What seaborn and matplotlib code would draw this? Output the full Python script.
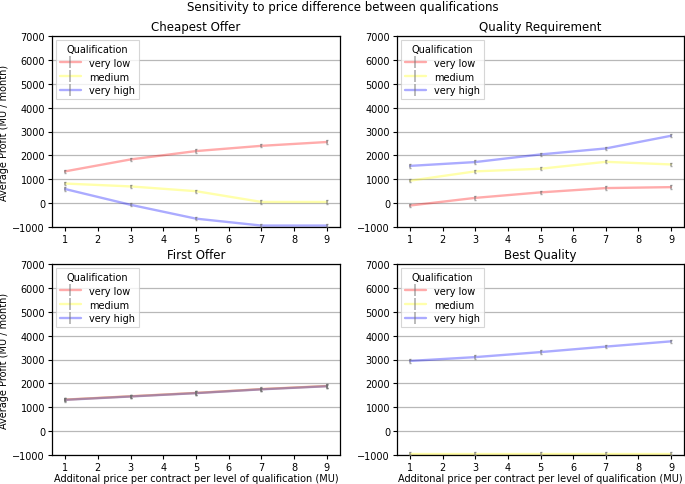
import numpy as np
import pandas as pd
import seaborn as sns
import matplotlib
matplotlib.use("Agg")
import matplotlib.pyplot as plt
from matplotlib.lines import Line2D
from matplotlib.legend_handler import HandlerTuple

# ---------------- data ----------------
price_steps = [1, 3, 5, 7, 9]
qualifications = ["very low", "medium", "very high"]
panel_titles = ["Cheapest Offer", "Quality Requirement", "First Offer", "Best Quality"]

cheapest_very_low = [1330, 1830, 2180, 2400, 2560]
cheapest_medium = [820, 700, 500, 50, 50]
cheapest_very_high = [590, -70, -650, -940, -940]

quality_very_low = [-100, 220, 450, 630, 670]
quality_medium = [940, 1330, 1440, 1730, 1620]
quality_very_high = [1560, 1720, 2040, 2290, 2820]

first_very_low = [1320, 1460, 1600, 1760, 1890]
first_medium = [1315, 1455, 1595, 1755, 1885]
first_very_high = [1310, 1450, 1590, 1750, 1880]

best_very_low = [-1050, -1050, -1050, -1050, -1050]
best_medium = [-940, -940, -940, -940, -940]
best_very_high = [2940, 3100, 3310, 3540, 3760]

error_size = [70, 70, 70, 70, 70]

panels = [
    [cheapest_very_low, cheapest_medium, cheapest_very_high],
    [quality_very_low, quality_medium, quality_very_high],
    [first_very_low, first_medium, first_very_high],
    [best_very_low, best_medium, best_very_high],
]
colors = ["red", "yellow", "blue"]

# ---------------- style ----------------
sns.set_style("ticks")
plt.rcParams["font.family"] = ["DejaVu Sans"]
plt.rcParams["text.color"] = "black"
plt.rcParams["axes.labelcolor"] = "black"
plt.rcParams["xtick.color"] = "black"
plt.rcParams["ytick.color"] = "black"

fig = plt.figure(figsize=(6.85, 4.85), dpi=100)
W, H = 685.0, 485.0
boxes = [
    (52, 37, 340, 228),
    (397, 37, 684, 228),
    (52, 265, 340, 456),
    (397, 265, 684, 456),
]

for i, (title, series) in enumerate(zip(panel_titles, panels)):
    l, t, r, b = boxes[i]
    ax = fig.add_axes([l / W, 1 - b / H, (r - l) / W, (b - t) / H])
    rows = []
    for q, vals in zip(qualifications, series):
        for x, y in zip(price_steps, vals):
            rows.append({"price": x, "profit": y, "Qualification": q})
    df = pd.DataFrame(rows)
    handles = []
    for q, vals, c in zip(qualifications, series, colors):
        sub = df[df["Qualification"] == q]
        sns.lineplot(data=sub, x="price", y="profit", color=c, alpha=0.33,
                     linewidth=1.7, ax=ax, legend=False, zorder=2)
        ax.errorbar(price_steps, vals, yerr=error_size, fmt="none",
                    ecolor="#707070", elinewidth=1.1, capsize=1.0, alpha=0.6, zorder=3)
        h_line = Line2D([], [], color=c, alpha=0.33, linewidth=1.7)
        h_bar = Line2D([], [], color="#707070", marker="|", markersize=9,
                       markeredgewidth=1.1, linestyle="none", alpha=0.6)
        handles.append((h_line, h_bar))
    ax.set_ylim(-1000, 7000)
    ax.set_xlim(0.6, 9.4)
    ax.set_xticks(range(1, 10))
    ax.set_yticks(range(-1000, 7001, 1000))
    ax.yaxis.grid(True, color="#b8b8b8", linewidth=0.9)
    ax.xaxis.grid(False)
    ax.set_axisbelow(True)
    for s in ax.spines.values():
        s.set_visible(True)
        s.set_color("black")
        s.set_linewidth(0.9)
    ax.tick_params(axis="both", labelsize=7, length=3, width=0.8, color="black", pad=2)
    ax.set_title(title, fontsize=8.5, pad=4)
    ax.set_xlabel("Additonal price per contract per level of qualification (MU)" if i >= 2 else "",
                  fontsize=7, labelpad=1)
    if i % 2 == 0:
        ax.set_ylabel("Average Profit (MU / month)", fontsize=7)
        ax.yaxis.set_label_coords(-0.150, 0.5)
    else:
        ax.set_ylabel("")
    leg = ax.legend(handles, qualifications, title="Qualification", loc="upper left",
                    fontsize=7, title_fontsize=7,
                    handler_map={tuple: HandlerTuple(ndivide=1)},
                    frameon=True, fancybox=False, borderaxespad=0.4,
                    handlelength=2.2, labelspacing=0.4)
    leg.get_frame().set_edgecolor("#cccccc")
    leg.get_frame().set_linewidth(0.8)

fig.text(0.5, 1 - 8 / H, "Sensitivity to price difference between qualifications",
         ha="center", va="center", fontsize=8.5)

fig.savefig("out.png", dpi=100)
